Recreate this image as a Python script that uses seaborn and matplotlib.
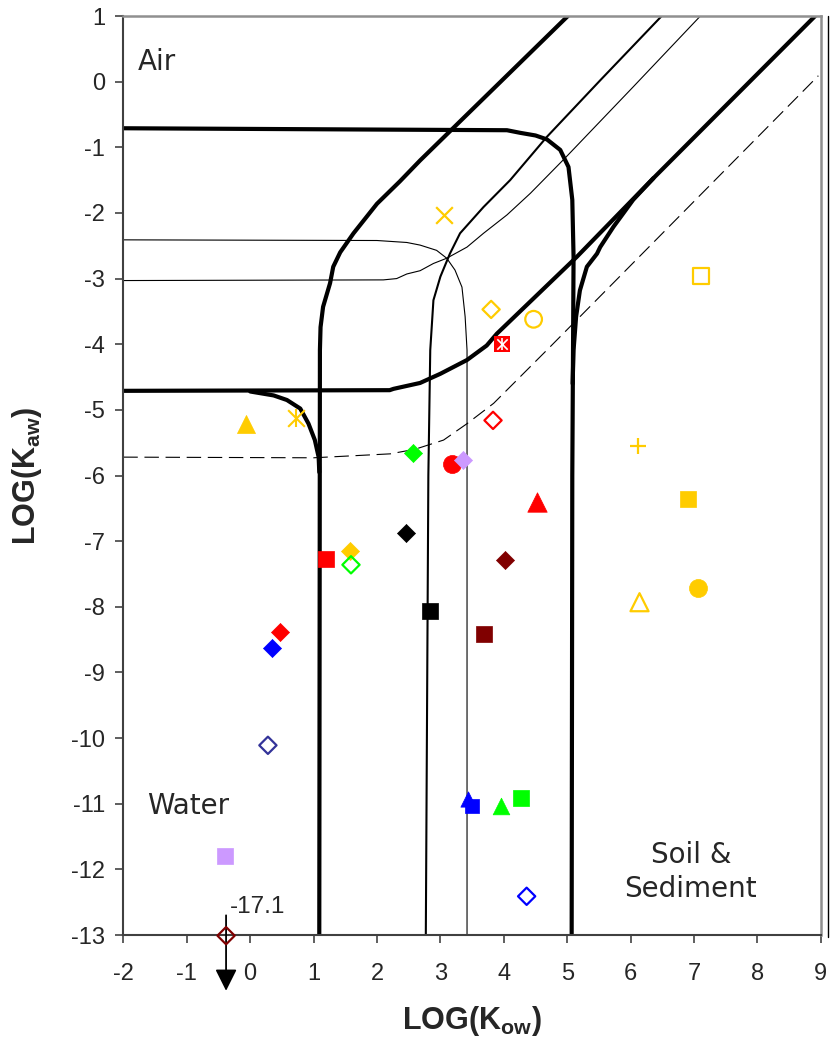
import matplotlib
matplotlib.use("Agg")
import matplotlib.pyplot as plt
import seaborn as sns
from matplotlib.lines import Line2D

sns.set_style("white")
plt.rcParams['font.family'] = ['Liberation Sans', 'DejaVu Sans']
plt.rcParams['axes.unicode_minus'] = False
plt.rcParams['mathtext.fontset'] = 'custom'
plt.rcParams['mathtext.rm'] = 'Liberation Sans'
plt.rcParams['mathtext.bf'] = 'Liberation Sans:bold'
plt.rcParams['mathtext.it'] = 'Liberation Sans:italic'

# ---------------- data ----------------
x_ticks = [-2, -1, 0, 1, 2, 3, 4, 5, 6, 7, 8, 9]
y_ticks = [-13, -12, -11, -10, -9, -8, -7, -6, -5, -4, -3, -2, -1, 0, 1]

# thick boundary curves
air_soil_x = [-2.0, 2.0, 4.05, 4.26, 4.5, 4.68, 4.89, 5.02, 5.08, 5.10, 5.08, 5.07]
air_soil_y = [-0.71, -0.73, -0.74, -0.78, -0.82, -0.88, -1.04, -1.30, -1.80, -2.67, -6.0, -13.0]

air_water_x = [5.01, 2.68, 2.36, 2.0, 1.63, 1.42, 1.31, 1.26, 1.15, 1.11, 1.10, 1.09]
air_water_y = [1.0, -1.2, -1.52, -1.86, -2.31, -2.6, -2.82, -3.07, -3.43, -3.74, -4.09, -13.0]

water_soil_x = [-2.0, 2.2, 2.26, 2.68, 3.0, 3.42, 3.73, 3.89, 5.15, 6.36, 8.91]
water_soil_y = [-4.71, -4.70, -4.68, -4.59, -4.45, -4.24, -4.02, -3.84, -2.67, -1.47, 1.0]

branch_left_x = [0.0, 0.37, 0.58, 0.79, 0.92, 1.02, 1.08, 1.09]
branch_left_y = [-4.72, -4.78, -4.85, -4.98, -5.21, -5.46, -5.72, -5.95]

branch_right_x = [6.36, 6.04, 5.73, 5.52, 5.47, 5.31, 5.2, 5.14, 5.10, 5.085]
branch_right_y = [-1.47, -1.80, -2.21, -2.52, -2.62, -2.82, -3.18, -3.58, -4.09, -4.6]

# thin / medium curves
thin_a_x = [-2.0, 2.0, 2.47, 2.68, 2.94, 3.1, 3.23, 3.34, 3.39, 3.42, 3.42]
thin_a_y = [-2.41, -2.42, -2.45, -2.49, -2.57, -2.69, -2.87, -3.13, -3.58, -4.09, -13.0]

thin_b_x = [-2.0, 2.1, 2.31, 2.47, 2.68, 2.89, 3.1, 3.42, 3.68, 4.05, 4.42, 4.99, 6.04, 7.1]
thin_b_y = [-3.03, -3.02, -3.0, -2.93, -2.88, -2.77, -2.69, -2.52, -2.31, -2.03, -1.70, -1.14, -0.08, 1.0]

medium_c_x = [6.49, 5.52, 4.68, 4.10, 3.68, 3.31, 3.15, 3.0, 2.89, 2.84, 2.81, 2.77]
medium_c_y = [1.0, 0.02, -0.84, -1.5, -1.91, -2.31, -2.62, -2.97, -3.33, -4.09, -6.0, -13.0]

dashed_x = [-2.0, 1.0, 2.21, 2.6, 3.05, 3.42, 3.84, 4.73, 8.96]
dashed_y = [-5.72, -5.73, -5.67, -5.6, -5.46, -5.21, -4.9, -4.04, 0.09]

# chemicals
log_kow = [3.05, 7.11, 3.80, 4.47, 3.97, -0.06, 0.73, 3.83, 2.57, 3.18, 3.35,
           6.11, 4.52, 6.91, 2.46, 1.19, 1.58, 1.59, 4.02, 6.14, 7.06, 2.83,
           3.68, 0.47, 0.35, 0.28, 3.44, 3.50, 3.96, 4.27, -0.40, 4.36, -0.38]
log_kaw = [-2.03, -2.96, -3.47, -3.62, -3.99, -5.22, -5.12, -5.16, -5.65, -5.83, -5.76,
           -5.55, -6.40, -6.36, -6.87, -7.27, -7.15, -7.36, -7.29, -7.93, -7.72, -8.07,
           -8.42, -8.39, -8.63, -10.11, -10.93, -11.03, -11.03, -10.91, -11.80, -12.41, -13.01]
point_color = ['#FFCC00', '#FFCC00', '#FFCC00', '#FFCC00', '#FF0000', '#FFCC00', '#FFCC00',
               '#FF0000', '#00FF00', '#FF0000', '#CC99FF', '#FFCC00', '#FF0000', '#FFCC00',
               '#000000', '#FF0000', '#FFCC00', '#00FF00', '#800000', '#FFCC00', '#FFCC00',
               '#000000', '#800000', '#FF0000', '#0000FF', '#333399', '#0000FF', '#0000FF',
               '#00FF00', '#00FF00', '#CC99FF', '#0000FF', '#800000']
point_shape = ['x', 's', 'D', 'o', 'sx', '^', '*', 'D', 'D', 'o', 'D',
               '+', '^', 's', 'D', 's', 'D', 'D', 'D', '^', 'o', 's',
               's', 'D', 'D', 'D', '^', 's', '^', 's', 's', 'D', 'D']
point_filled = [True, False, False, False, True, True, True, False, True, True, True,
                True, True, True, True, True, True, False, True, False, True, True,
                True, True, True, False, True, True, True, True, True, False, False]
point_size = [12, 11.5, 8.8, 12, 11.5, 13, 12, 8.8, 9.2, 13, 9.2,
              12, 14, 12, 9.2, 12.2, 9.2, 8.8, 9.2, 13, 13, 12.2,
              12.2, 9.2, 9.2, 8.8, 11, 9.5, 12, 12, 12, 8.8, 8.8]

offscale_label = "-17.1"
offscale_top = -12.70
offscale_tip = -13.85

# ---------------- figure ----------------
fig = plt.figure(figsize=(8.3, 10.46), dpi=100)
ax = fig.add_axes([0.1486, 0.1061, 0.8404, 0.8786])

def curve(xs, ys, lw, ls='-'):
    sns.lineplot(x=xs, y=ys, sort=False, estimator=None, color='black',
                 linewidth=lw, linestyle=ls, ax=ax, zorder=2)

for xs, ys in [(air_soil_x, air_soil_y), (air_water_x, air_water_y),
               (water_soil_x, water_soil_y), (branch_left_x, branch_left_y),
               (branch_right_x, branch_right_y)]:
    curve(xs, ys, 3.0)
curve(thin_a_x, thin_a_y, 0.8)
curve(thin_b_x, thin_b_y, 0.8)
curve(medium_c_x, medium_c_y, 1.5)
curve(dashed_x, dashed_y, 0.8, ls=(0, (13, 6)))

def pt(x, y, marker, color, size, fc=None, lw=0.0, z=4):
    kws = dict(x=[x], y=[y], marker=marker, s=size ** 2, color=color,
               linewidth=lw, ax=ax, legend=False, zorder=z, clip_on=False)
    if fc is not None:
        kws['facecolor'] = fc
        kws['edgecolor'] = color
    elif marker not in ('x', '+', '|'):
        kws['edgecolor'] = color
    sns.scatterplot(**kws)

for x, y, c, m, f, sz in zip(log_kow, log_kaw, point_color, point_shape,
                             point_filled, point_size):
    if m == 'x' or m == '+':
        pt(x, y, m, c, sz, lw=1.6)
    elif m == '*':
        pt(x, y, 'x', c, sz, lw=1.5)
        pt(x, y, '|', c, sz * 1.1, lw=1.5)
    elif m == 'sx':
        pt(x, y, 's', c, sz)
        pt(x, y, 'x', 'white', sz * 0.65, lw=1.2, z=5)
        pt(x, y, '|', 'white', sz * 0.8, lw=1.2, z=5)
    elif f:
        pt(x, y, m, c, sz, lw=0.5)
    else:
        pt(x, y, m, c, sz, fc='none', lw=1.6)

# off-scale arrow
ax.annotate('', xy=(log_kow[-1], offscale_tip), xytext=(log_kow[-1], offscale_top),
            arrowprops=dict(arrowstyle='-|>', color='black', lw=1.3,
                            mutation_scale=33, shrinkA=0, shrinkB=0),
            annotation_clip=False, zorder=3)
ax.text(log_kow[-1] + 0.06, offscale_top + 0.03, offscale_label, fontsize=17.5,
        ha='left', va='baseline')

# region labels
ax.text(-1.77, 0.3, 'Air', fontsize=20, family='DejaVu Sans', ha='left', va='center')
ax.text(-1.63, -11.04, 'Water', fontsize=20, family='DejaVu Sans', ha='left', va='center')
ax.text(6.95, -12.04, 'Soil &\nSediment', fontsize=20, family='DejaVu Sans',
        ha='center', va='center', linespacing=1.3)

# axes
ax.set_xlim(-2, 9)
ax.set_ylim(-13, 1)
ax.set_xticks(x_ticks)
ax.set_yticks(y_ticks)
ax.tick_params(axis='both', direction='out', length=6, width=1.1, color='#333333',
               labelsize=17)
ax.tick_params(axis='y', pad=7)
ax.tick_params(axis='x', pad=14)
ax.tick_params(left=True, bottom=True)
for side in ['left', 'bottom']:
    ax.spines[side].set_color('#404040')
    ax.spines[side].set_linewidth(1.5)
for side in ['top', 'right']:
    ax.spines[side].set_color('#909090')
    ax.spines[side].set_linewidth(1.8)
ax.grid(False)

ax.set_xlabel(r'LOG(K$_\mathbf{ow}$)', fontsize=22, fontweight='bold', labelpad=14)
ax.set_ylabel(r'LOG(K$_\mathbf{aw}$)', fontsize=22, fontweight='bold', labelpad=20)

# outer frame edge at right
fig.add_artist(Line2D([0.9976, 0.9976], [0.1042, 0.9847], transform=fig.transFigure,
                      color='black', lw=1.0))

fig.savefig('out.png', dpi=100, facecolor='white')
